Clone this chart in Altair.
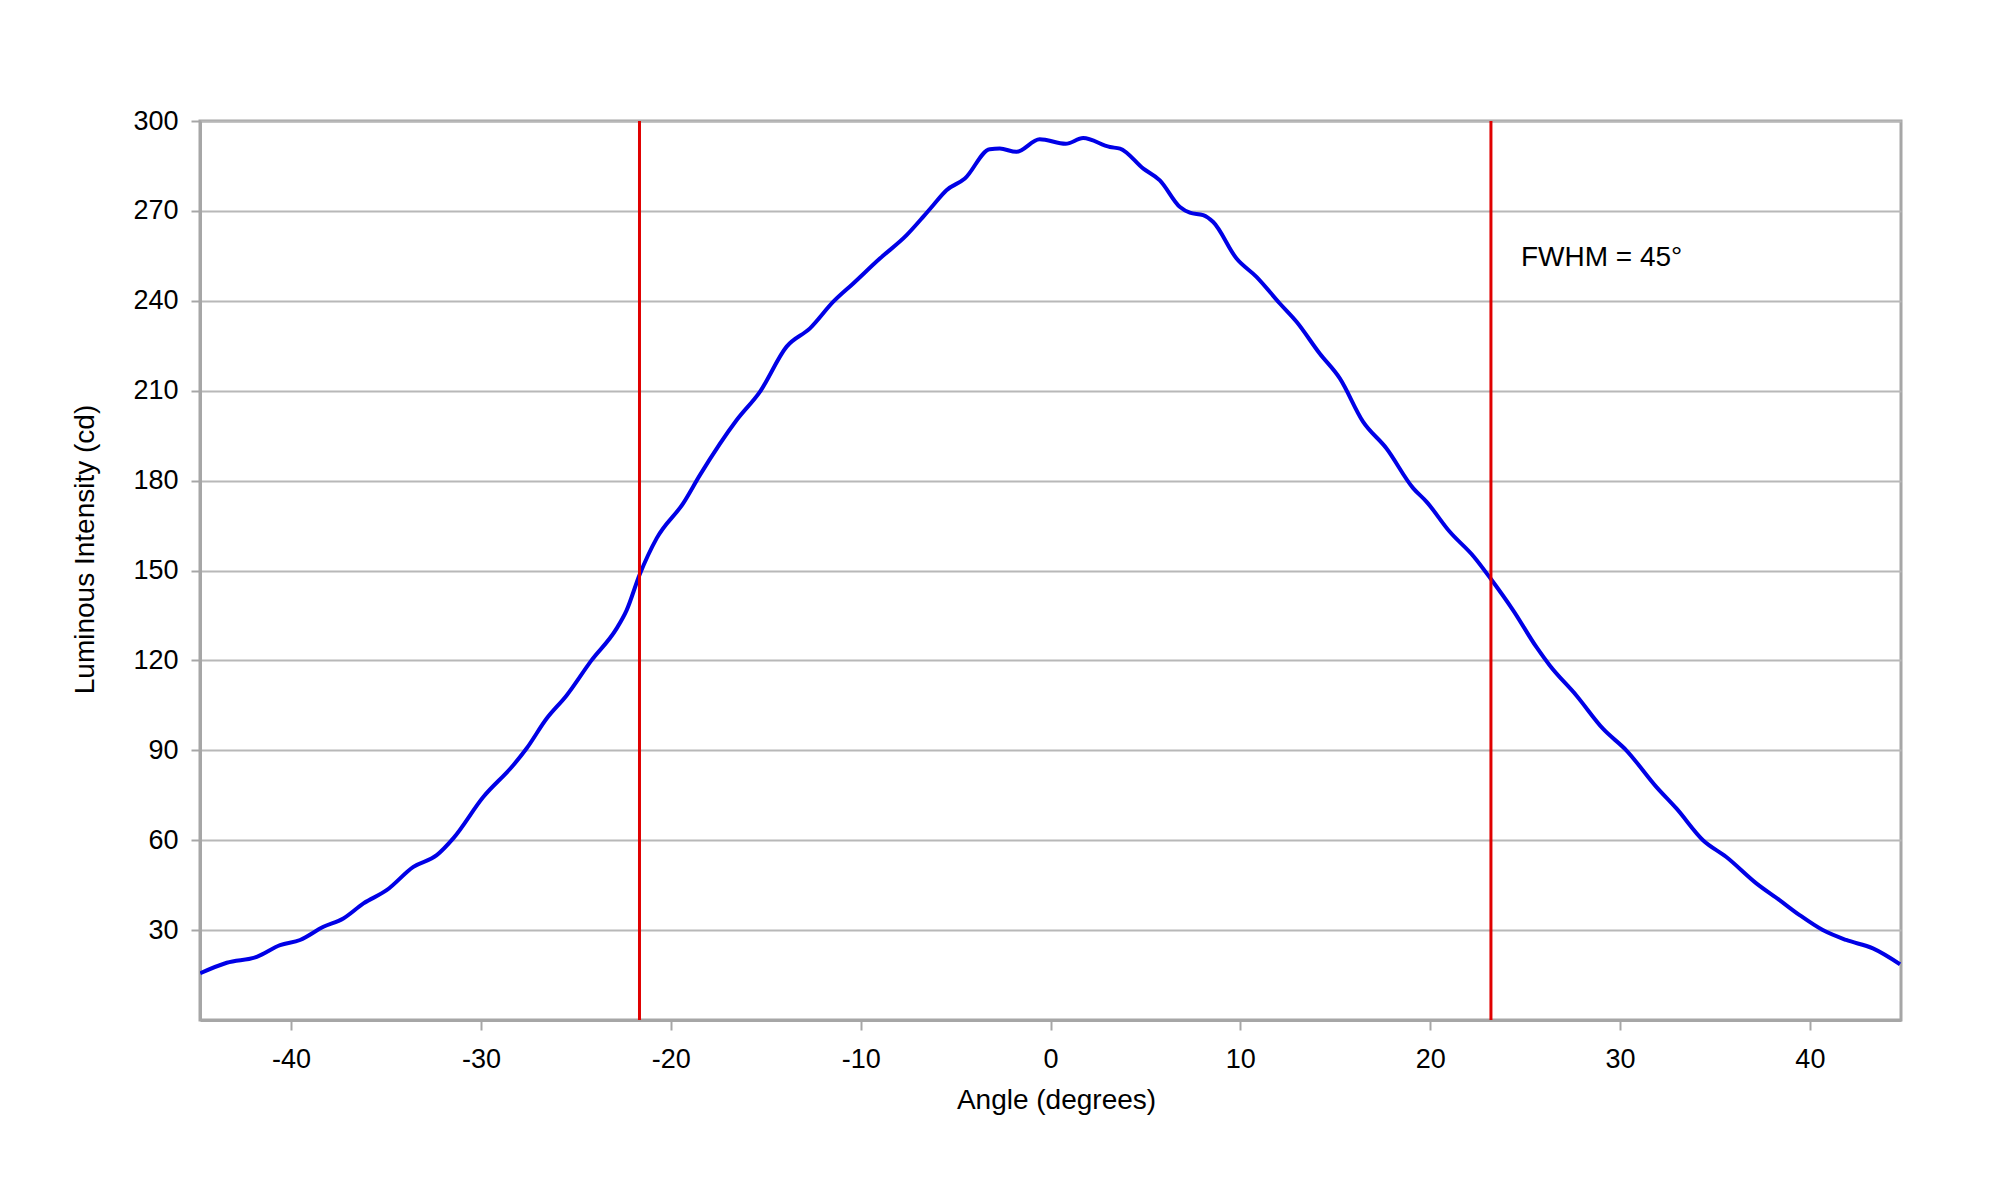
import altair as alt
import pandas as pd

# ---- data ----
angle = [-44.79, -43.39, -41.81, -40.58, -39.53, -38.30, -37.25, -36.19, -34.97, -33.56,
         -32.33, -31.46, -29.88, -28.30, -27.60, -26.54, -25.49, -24.18, -22.86, -22.33,
         -21.65, -20.74, -19.34, -18.46, -16.53, -15.30, -13.90, -12.67, -11.44, -10.39,
         -8.99, -7.58, -6.71, -6.18, -5.48, -4.51, -3.20, -2.67, -1.80, -0.57,
         0.80, 1.72, 3.13, 3.66, 4.89, 5.76, 6.82, 7.34, 8.04, 8.57,
         9.80, 10.85, 12.08, 12.96, 14.18, 15.24, 16.46, 17.69, 19.10, 19.80,
         21.02, 22.30, 23.17, 24.37, 25.60, 26.30, 27.70, 29.10, 30.33, 31.91,
         32.97, 34.37, 35.60, 37.18, 38.40, 39.46, 40.68, 41.91, 43.32, 44.75]
intensity = [15.6, 19.1, 21.1, 25.0, 26.7, 31.1, 33.9, 38.9, 43.3, 51.1,
             55.0, 60.6, 74.4, 85.0, 90.6, 100.6, 108.3, 120.0, 130.6, 136.7,
             148.5, 160.8, 172.5, 181.9, 200.2, 209.7, 224.7, 230.8, 239.7, 245.8,
             254.1, 261.9, 268.0, 271.9, 276.9, 280.8, 290.6, 290.8, 289.7, 293.9,
             292.4, 294.3, 291.3, 290.8, 284.1, 280.2, 271.3, 269.4, 268.6, 266.3,
             254.1, 248.0, 239.1, 233.0, 222.4, 214.1, 199.7, 190.8, 177.5, 173.0,
             163.0, 154.6, 147.4, 136.7, 124.4, 118.3, 108.3, 97.2, 90.0, 77.8,
             70.6, 60.0, 54.4, 45.6, 40.0, 35.0, 30.0, 26.7, 23.9, 18.6]
fwhm_edges = [-21.65, 23.2]
x_ticks = [-40, -30, -20, -10, 0, 10, 20, 30, 40]
y_ticks = [30, 60, 90, 120, 150, 180, 210, 240, 270, 300]
x_domain = [-44.8, 44.8]
y_domain = [0, 300]
annotation_text = ["FWHM = 45°"]
annotation_angle = [24.78]
annotation_intensity = [251.7]
x_title = "Angle (degrees)"
y_title = "Luminous Intensity (cd)"

FONT = "Liberation Sans"
GRAY = "#a6a6a6"

curve = pd.DataFrame({"angle": angle, "intensity": intensity})
edges = pd.DataFrame({"angle": fwhm_edges})
note = pd.DataFrame({"angle": annotation_angle, "intensity": annotation_intensity,
                     "label": annotation_text})

x_enc = alt.X(
    "angle:Q",
    scale=alt.Scale(domain=x_domain, nice=False, zero=False),
    axis=alt.Axis(
        values=x_ticks, title=x_title, grid=False, labelExpr="'' + datum.value",
        domainColor=GRAY, domainWidth=3, tickColor=GRAY, tickWidth=2, tickSize=10,
        labelFont=FONT, labelFontSize=27, labelColor="black", labelPadding=16,
        labelFlush=False,
        titleFont=FONT, titleFontSize=28, titleFontWeight="normal", titleColor="black",
        titleX=856, titleY=88, titleBaseline="alphabetic", titleAlign="center",
    ),
)
y_enc = alt.Y(
    "intensity:Q",
    scale=alt.Scale(domain=y_domain, nice=False),
    axis=alt.Axis(
        values=y_ticks, title=y_title, grid=True, gridColor="#b8b8b8", gridWidth=2,
        domainColor=GRAY, domainWidth=3, tickColor=GRAY, tickWidth=2, tickSize=9,
        labelFont=FONT, labelFontSize=27, labelColor="black", labelPadding=13,
        labelFlush=False,
        titleFont=FONT, titleFontSize=28, titleFontWeight="normal", titleColor="black",
        titleX=-107, titleY=428, titleAngle=270, titleBaseline="alphabetic",
        titleAlign="center",
    ),
)

line = alt.Chart(curve).mark_line(
    color="#0000e6", strokeWidth=4, interpolate="monotone", clip=True
).encode(x=x_enc, y=y_enc)

rules = alt.Chart(edges).mark_rule(color="#e00000", strokeWidth=3).encode(x=x_enc)

text = alt.Chart(note).mark_text(
    align="left", baseline="alphabetic", font=FONT, fontSize=28, color="black"
).encode(x=x_enc, y=y_enc, text="label:N")

chart = (
    alt.layer(line, rules, text)
    .properties(
        width=1701, height=899,
        autosize=alt.AutoSizeParams(type="none"),
        padding={"left": 192, "top": 113, "right": 90, "bottom": 170},
        background="white",
    )
    .configure_view(stroke=GRAY, strokeWidth=3)
)

chart.save("out.html", embed_options={"renderer": "svg", "actions": False})
